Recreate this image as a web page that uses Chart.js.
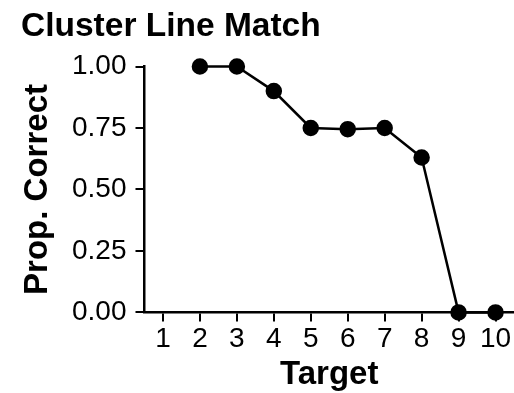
<!DOCTYPE html>
<html>
<head>
<meta charset="utf-8">
<script src="https://cdn.jsdelivr.net/npm/chart.js@4.4.1/dist/chart.umd.min.js"></script>
<style>
  html, body { margin: 0; padding: 0; background: #fff; }
  #wrap { width: 514px; height: 393px; }
</style>
</head>
<body>
<div id="wrap"><canvas id="myChart"></canvas></div>
<script>
// data
var targets = [2, 3, 4, 5, 6, 7, 8, 9, 10];
var propCorrect = [1.00, 1.00, 0.90, 0.75, 0.745, 0.75, 0.63, 0.00, 0.00];
var xTicks = [1, 2, 3, 4, 5, 6, 7, 8, 9, 10];
var yTicks = [0, 0.25, 0.5, 0.75, 1];

var points = [];
for (var i = 0; i < targets.length; i++) {
  points.push({ x: targets[i], y: propCorrect[i] });
}

var fontFam = "'Liberation Sans', Arial, sans-serif";

const ctx = document.getElementById('myChart');

const myChart = new Chart(ctx, {
  type: 'line',
  data: {
    datasets: [{
      data: points,
      borderColor: '#000',
      backgroundColor: '#000',
      borderWidth: 2.5,
      pointRadius: 7,
      pointHoverRadius: 7,
      tension: 0,
      clip: false
    }]
  },
  options: {
    responsive: true,
    maintainAspectRatio: false,
    animation: false,
    layout: { autoPadding: false, padding: { left: 21, right: 0, top: 10, bottom: 2 } },
    plugins: {
      legend: { display: false },
      tooltip: { enabled: false },
      title: {
        display: true,
        text: 'Cluster Line Match',
        align: 'start',
        color: '#000',
        font: { family: fontFam, size: 33.5, weight: 'bold', lineHeight: 1 },
        padding: { top: 0, bottom: 23 }
      }
    },
    scales: {
      x: {
        type: 'linear',
        min: 0.5,
        max: 10.5,
        afterBuildTicks: function(axis) {
          axis.ticks = xTicks.map(function(v) { return { value: v }; });
        },
        afterFit: function(axis) {
          // let the axis run to the right edge like the original
          axis.paddingRight = 0;
        },
        ticks: {
          color: '#000',
          font: { family: fontFam, size: 28, lineHeight: 1.2 },
          padding: 1,
          maxRotation: 0,
          autoSkip: false
        },
        grid: {
          drawOnChartArea: false,
          color: '#000',
          lineWidth: 2,
          tickLength: 9
        },
        border: { color: '#000', width: 2.5 },
        title: {
          display: true,
          text: 'Target',
          color: '#000',
          font: { family: fontFam, size: 33, weight: 'bold', lineHeight: 1 },
          padding: { top: 1, bottom: 0 }
        }
      },
      y: {
        min: 0,
        max: 1,
        afterBuildTicks: function(axis) {
          axis.ticks = yTicks.map(function(v) { return { value: v }; });
        },
        ticks: {
          color: '#000',
          font: { family: fontFam, size: 28 },
          padding: 9,
          callback: function(v) { return Number(v).toFixed(2); }
        },
        grid: {
          drawOnChartArea: false,
          color: '#000',
          lineWidth: 2,
          tickLength: 9
        },
        border: { color: '#000', width: 2.5 },
        title: {
          display: true,
          text: 'Prop. Correct',
          color: '#000',
          font: { family: fontFam, size: 33, weight: 'bold', lineHeight: 1 },
          padding: { top: 0, bottom: 9 }
        }
      }
    }
  }
});
</script>
</body>
</html>
